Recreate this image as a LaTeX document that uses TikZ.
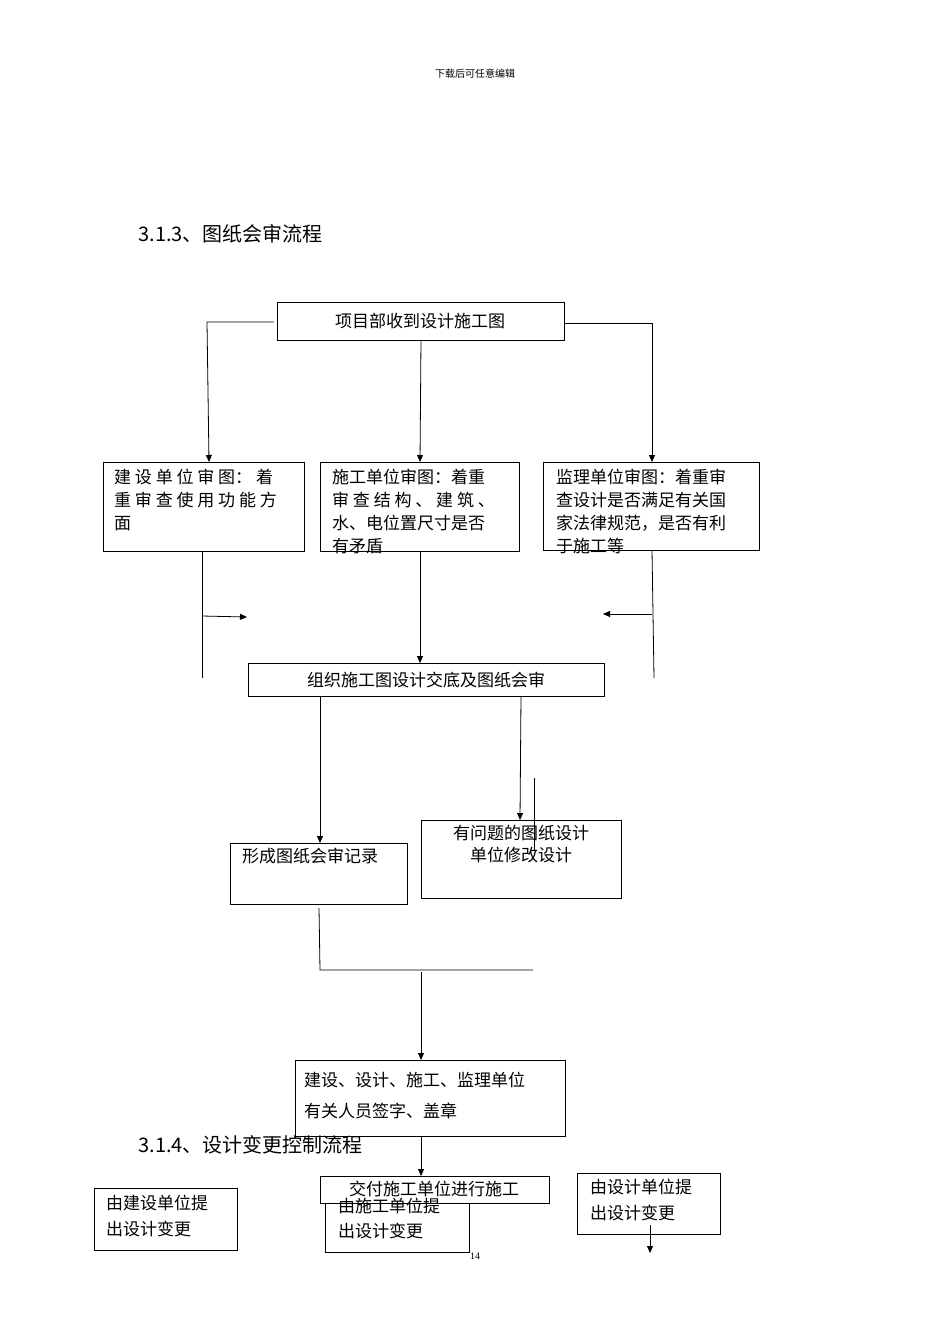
\documentclass[tikz,border=0pt]{standalone}
\usepackage{fontspec}
\setmainfont{Liberation Serif}
\newfontfamily\cjk{Noto Sans CJK SC}
\usetikzlibrary{arrows.meta}
\begin{document}
\begin{tikzpicture}[x=1pt,y=-1pt,
  bx/.style={draw,line width=0.8pt,inner sep=0pt},
  tx/.style={font=\cjk\fontsize{17}{23}\selectfont,inner sep=0pt,align=left,anchor=north west},
  ar/.style={-{Triangle[length=7pt,width=6pt]},line width=0.8pt},
  ln/.style={line width=0.8pt}]
\useasboundingbox (0,0) rectangle (950,1344);
\node[font=\cjk\fontsize{10}{12}\selectfont] (hd) at (475,74) {下载后可任意编辑};
\node[font=\cjk\fontsize{20}{22}\selectfont,anchor=west] (t1) at (135,234) {3.1.3、图纸会审流程};
\node[font=\cjk\fontsize{20}{22}\selectfont,anchor=west] (t2) at (135,1145) {3.1.4、设计变更控制流程};
\node (pg) at (475,1256) {14};

\draw[bx] (277,302) rectangle (564,340);
\node[font=\cjk\fontsize{17}{20}\selectfont] (b1) at (420,321) {项目部收到设计施工图};
\draw[bx] (103,462) rectangle (304,551);
\node[tx] (b2) at (114,469) {建 设 单 位 审 图： 着\\重 审 查 使 用 功 能 方\\面};
\draw[bx] (320,462) rectangle (519,551);
\node[tx] (b3) at (332,469) {施工单位审图：着重\\审 查 结 构 、 建 筑 、\\水、电位置尺寸是否\\有矛盾};
\draw[bx] (543,462) rectangle (759,550);
\node[tx] (b4) at (556,469) {监理单位审图：着重审\\查设计是否满足有关国\\家法律规范，是否有利\\于施工等};
\draw[bx] (248,663) rectangle (604,696);
\node[font=\cjk\fontsize{17}{20}\selectfont] (b5) at (426,680) {组织施工图设计交底及图纸会审};
\draw[bx] (230,843) rectangle (407,904);
\node[tx] (b6) at (242,848) {形成图纸会审记录};
\draw[bx] (421,820) rectangle (621,898);
\node[font=\cjk\fontsize{17}{22}\selectfont,align=center,anchor=north,inner sep=0pt] (b7) at (521,825) {有问题的图纸设计\\单位修改设计};
\draw[bx] (295,1060) rectangle (565,1136);
\node[tx,font=\cjk\fontsize{17}{31}\selectfont] (b8) at (304,1072) {建设、设计、施工、监理单位\\有关人员签字、盖章};
\draw[bx] (320,1176) rectangle (549,1203);
\node[font=\cjk\fontsize{17}{20}\selectfont] (b9) at (434,1189) {交付施工单位进行施工};
\draw[bx] (94,1188) rectangle (237,1250);
\node[tx,font=\cjk\fontsize{17}{26}\selectfont] (b10) at (106,1195) {由建设单位提\\出设计变更};
\draw[bx] (325,1203) rectangle (469,1252);
\node[tx,font=\cjk\fontsize{17}{25}\selectfont] (b11) at (338,1198) {由施工单位提\\出设计变更};
\draw[bx] (577,1173) rectangle (720,1234);
\node[tx,font=\cjk\fontsize{17}{26}\selectfont] (b12) at (590,1179) {由设计单位提\\出设计变更};

\draw[ar] (274,322) -- (207,322) -- (209,462);
\draw[ar] (564,323) -- (652,323) -- (652,462);
\draw[ar] (421,340) -- (420,462);
\draw[ln] (202,551) -- (202,678);
\draw[ar] (202,616) -- (247,617);
\draw[ln] (652,550) -- (654,678);
\draw[ar] (652,614) -- (603,614);
\draw[ar] (420,551) -- (420,663);
\draw[ar] (320,696) -- (320,843);
\draw[ar] (521,696) -- (520,820);
\draw[ln] (534,778) -- (534,850);
\draw[ln] (319,908) -- (320,970) -- (533,970);
\draw[ar] (421,972) -- (421,1060);
\draw[ar] (421,1136) -- (421,1176);
\draw[ar] (650,1225) -- (650,1253);
\end{tikzpicture}
\end{document}
